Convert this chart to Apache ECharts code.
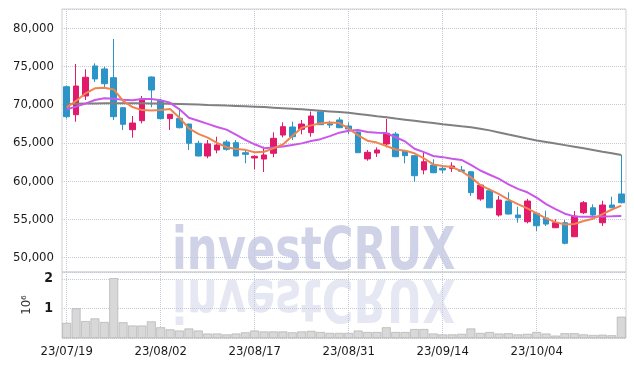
<!DOCTYPE html>
<html><head><meta charset="utf-8">
<script src="https://cdn.jsdelivr.net/npm/echarts@6/dist/echarts.min.js"></script>
<style>html,body{margin:0;padding:0;background:#fff}#c{width:634px;height:366px}</style>
</head><body><div id="c"></div>
<script>
const dates = ['23/07/19','23/07/20','23/07/21','23/07/24','23/07/25','23/07/26','23/07/27','23/07/28','23/07/31','23/08/01',
'23/08/02','23/08/03','23/08/04','23/08/07','23/08/08','23/08/09','23/08/10','23/08/11','23/08/14','23/08/16',
'23/08/17','23/08/18','23/08/21','23/08/22','23/08/23','23/08/24','23/08/25','23/08/28','23/08/29','23/08/30',
'23/08/31','23/09/01','23/09/04','23/09/05','23/09/06','23/09/07','23/09/08','23/09/11','23/09/12','23/09/13',
'23/09/14','23/09/15','23/09/18','23/09/19','23/09/20','23/09/21','23/09/22','23/09/25','23/09/26','23/09/27',
'23/10/04','23/10/05','23/10/06','23/10/10','23/10/11','23/10/12','23/10/13','23/10/16','23/10/17','23/10/18'];
// [open, close, low, high]
const ohlc = [
[72360,68440,68200,72500],[68700,72450,67780,75330],[71140,73590,70620,74640],[75070,73370,72980,75420],[74680,72750,72150,74980],
[73540,68440,68010,78600],[69610,67440,66700,69700],[66740,67610,65690,68530],[67910,70750,67570,71150],[73630,71930,69670,73700],
[70490,68180,68100,70790],[68180,68750,66700,68800],[68230,67000,66900,69540],[67480,64960,64080,67500],[64960,63300,63250,65300],
[63300,64870,63000,65390],[64080,64740,63650,65820],[65130,64170,63990,65390],[65040,63300,63250,65390],[63730,63520,62340,64080],
[63040,63260,61560,63400],[62900,63430,61200,64520],[63650,65610,63130,66400],[66040,67130,65740,67700],[67090,65820,65390,67780],
[66790,67480,66130,68010],[66350,68530,65820,69120],[69070,67390,67350,69100],[67520,67350,66960,67900],[68010,67000,66950,68360],
[67220,66830,66150,67700],[66440,63730,63700,66500],[62920,63780,62680,64080],[63690,64080,63170,64430],[64870,66270,64430,68140],
[66170,63210,63150,66440],[63950,63340,62340,64000],[63340,60720,59940,63400],[61470,62550,60900,63860],[62120,61110,61050,62870],
[61690,61470,61030,62120],[61690,61990,61200,62470],[61470,61300,61250,61990],[61240,58500,58070,61300],[57670,59500,57450,59550],
[58760,56530,56500,59060],[55580,57540,55360,58070],[57410,55710,55650,58550],[55580,55230,54580,56670],[54700,57410,54490,57700],
[55800,54180,53490,55900],[55190,54400,54140,56150],[53920,54570,53900,55020],[54570,51880,51750,54930],[52740,55450,52700,56100],
[55880,57190,55710,57410],[56530,55580,55450,56980],[54570,56890,54140,57450],[56890,56530,56500,57970],[58330,57190,57100,63430]];
const ma5 = [69660,70500,71500,72150,72230,72000,70500,69700,69300,69250,
69300,69450,68300,66900,66200,65700,65000,64450,64200,64100,
63800,63850,64300,64800,65900,67000,67300,67580,67680,67600,
66900,66000,65300,65050,64600,64150,64000,63650,63000,62200,
62000,61850,61300,60500,59500,58900,58300,57600,57000,56440,
55800,55150,54650,54350,54400,54800,55100,55700,56300,56800];
const ma20 = [69400,69750,70150,70620,70850,70790,70650,70600,70740,70750,
70600,70250,69400,68300,67900,67500,67100,66750,66100,65400,
64830,64320,64400,64550,64750,64950,65250,65500,65900,66350,
66600,66700,66450,66350,66300,65750,65200,64250,63800,63300,
63150,62950,62780,62150,61400,60850,60300,59600,59000,58550,
57850,57000,56350,55750,55400,55350,55350,55400,55420,55450];
const ma120 = [70100,70120,70150,70170,70190,70200,70200,70190,70180,70160,
70150,70130,70100,70070,70030,69980,69940,69890,69850,69800,
69750,69690,69620,69550,69480,69400,69310,69220,69130,69040,
68950,68800,68650,68500,68380,68200,68050,67900,67750,67600,
67450,67320,67180,67050,66850,66650,66380,66110,65850,65580,
65320,65120,64920,64720,64510,64300,64080,63860,63650,63430];
const volume = [0.51,1.0,0.57,0.66,0.54,2.02,0.53,0.42,0.42,0.56,
0.36,0.29,0.25,0.32,0.25,0.15,0.15,0.12,0.15,0.19,
0.25,0.22,0.22,0.22,0.19,0.22,0.24,0.2,0.17,0.17,
0.17,0.25,0.2,0.2,0.36,0.2,0.2,0.3,0.3,0.15,
0.12,0.12,0.14,0.32,0.17,0.2,0.15,0.16,0.12,0.14,
0.2,0.15,0.08,0.16,0.16,0.12,0.1,0.11,0.09,0.72];

const FONT = '"Liberation Sans Narrow","DejaVu Sans Condensed",sans-serif';
const PINK = '#e3196a', BLUE = '#2d94c8';
const gridLine = {show:true, lineStyle:{color:'#c5c8d8', type:'dotted', width:1}};
const WM_FONT = 'bold 58px "DejaVu Sans Condensed","DejaVu Sans",sans-serif';
const chart = echarts.init(document.getElementById('c'), null, {renderer:'canvas'});
chart.setOption({
  animation:false,
  backgroundColor:'#fff',
  grid:[
    {left:62, right:8, top:9, bottom:94, show:true, borderColor:'#d0d0d0', borderWidth:1, backgroundColor:'transparent'},
    {left:62, right:8, top:272, bottom:28, show:true, borderColor:'#d0d0d0', borderWidth:1, backgroundColor:'transparent'}
  ],
  xAxis:[
    {type:'category', gridIndex:0, data:dates, boundaryGap:true,
     axisLine:{show:false}, axisTick:{show:false}, axisLabel:{show:false},
     splitLine:Object.assign({interval:9, alignWithLabel:true}, gridLine)},
    {type:'category', gridIndex:1, data:dates, boundaryGap:true,
     axisLine:{show:false}, axisTick:{show:false},
     axisLabel:{interval:9, color:'#1a1a1a', fontFamily:FONT, fontSize:13, margin:7},
     splitLine:Object.assign({interval:9, alignWithLabel:true}, gridLine)}
  ],
  yAxis:[
    {type:'value', gridIndex:0, min:48130, max:82520, splitNumber:7,
     axisLine:{show:false}, axisTick:{show:false},
     axisLabel:{showMinLabel:false, showMaxLabel:false, color:'#1a1a1a', fontFamily:FONT, fontSize:13, margin:8,
       formatter:v => v.toLocaleString('en-US')},
     splitLine:gridLine},
    {type:'value', gridIndex:1, min:0, max:2.23, interval:1,
     name:'10⁶', nameLocation:'middle', nameGap:10, nameRotate:90,
     nameTextStyle:{color:'#333', fontFamily:FONT, fontSize:13},
     axisLine:{show:false}, axisTick:{show:false},
     axisLabel:{showMaxLabel:false, color:'#1a1a1a', fontFamily:FONT, fontSize:14, fontWeight:'bold', margin:9,
       formatter:v => v === 0 ? '' : String(v)},
     splitLine:gridLine}
  ],
  graphic:[
    {type:'text', x:172, y:283, scaleX:0.83, z:-10, silent:true,
     style:{text:'investCRUX', font:WM_FONT, fill:'rgba(150,158,205,0.45)', verticalAlign:'bottom'}},
    {type:'text', x:172, y:266, scaleX:0.83, scaleY:-1, z:-10, silent:true,
     style:{text:'investCRUX', font:WM_FONT, fill:'rgba(150,158,205,0.25)', verticalAlign:'bottom'}}
  ],
  series:[
    {type:'bar', xAxisIndex:1, yAxisIndex:1, data:volume, barWidth:'94%',
     itemStyle:{color:'#d8d8d8', borderColor:'#a8a8a8', borderWidth:0.6}},
    {type:'line', xAxisIndex:0, yAxisIndex:0, data:ma120, showSymbol:false, z:3,
     lineStyle:{color:'#808080', width:2}},
    {type:'line', xAxisIndex:0, yAxisIndex:0, data:ma20, showSymbol:false, z:3,
     lineStyle:{color:'#c957ea', width:2}},
    {type:'line', xAxisIndex:0, yAxisIndex:0, data:ma5, showSymbol:false, z:3,
     lineStyle:{color:'#ee8550', width:2}},
    {type:'candlestick', xAxisIndex:0, yAxisIndex:0, data:ohlc, barWidth:6, z:2,
     itemStyle:{color:PINK, color0:BLUE, borderColor:PINK, borderColor0:BLUE, borderWidth:1}}
  ]
});
</script></body></html>
